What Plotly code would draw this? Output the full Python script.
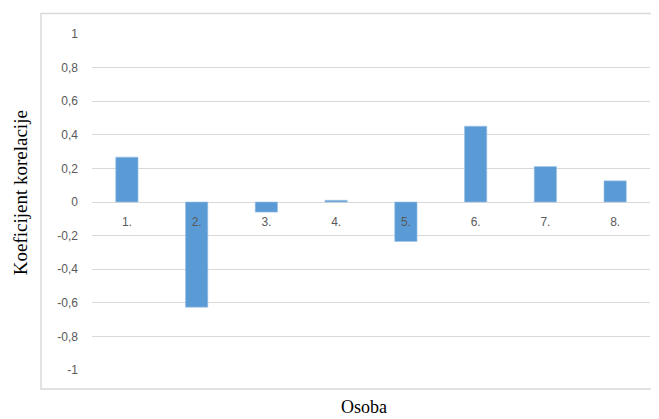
import plotly.graph_objects as go

categories = ["1.", "2.", "3.", "4.", "5.", "6.", "7.", "8."]
values = [0.267, -0.626, -0.06, 0.01, -0.235, 0.451, 0.211, 0.126]
y_tick_vals = [1, 0.8, 0.6, 0.4, 0.2, 0, -0.2, -0.4, -0.6, -0.8, -1]
y_tick_text = ["1", "0,8", "0,6", "0,4", "0,2", "0", "-0,2", "-0,4", "-0,6", "-0,8", "-1"]

# page body has an 8px margin; compensate
OFF = 8
W, H = 659 - OFF, 419 - OFF
ml, mr, mt, mb = 92 - OFF, 9, 33.5 - OFF, 49
pw = W - ml - mr
ph = H - mt - mb


def px_x(x):
    return (x - OFF - ml) / pw


def px_y(y):
    return (H - mb - (y - OFF)) / ph


fig = go.Figure()
fig.add_trace(go.Bar(
    x=categories, y=values,
    marker=dict(color="#5B9BD5", line=dict(color="#9DC3E6", width=0.6)),
    width=0.32,
))

fig.update_layout(
    width=W, height=H,
    margin=dict(l=ml, r=mr, t=mt, b=mb, autoexpand=False),
    plot_bgcolor="white", paper_bgcolor="white",
    showlegend=False,
    font=dict(family="Liberation Sans, Arial", size=12, color="#595959"),
    xaxis=dict(
        type="category", automargin=False,
        anchor="free", position=0.5,
        showline=False, showgrid=False, zeroline=False,
        ticks="", tickfont=dict(size=12, color="#595959"),
        ticklabelstandoff=11,
    ),
    yaxis=dict(
        range=[-1, 1], automargin=False,
        tickvals=y_tick_vals, ticktext=y_tick_text,
        showgrid=True, gridcolor="#D9D9D9", gridwidth=1,
        zeroline=True, zerolinecolor="#D9D9D9", zerolinewidth=1,
        showline=False, ticks="",
        ticklabelstandoff=13,
        tickfont=dict(size=12, color="#595959"),
    ),
    shapes=[dict(
        type="rect", xref="paper", yref="paper",
        x0=px_x(41), x1=px_x(659),
        y0=px_y(389), y1=px_y(13),
        line=dict(color="#D9D9D9", width=1.5), fillcolor="rgba(0,0,0,0)",
        layer="below",
    )],
    annotations=[
        dict(text="Koeficijent korelacije", xref="paper", yref="paper",
             x=px_x(20), y=px_y(193), textangle=-90,
             showarrow=False, xanchor="center", yanchor="middle",
             font=dict(family="Liberation Serif, DejaVu Serif", size=19, color="black")),
        dict(text="Osoba", xref="paper", yref="paper",
             x=px_x(364), y=px_y(395),
             showarrow=False, xanchor="center", yanchor="top",
             font=dict(family="Liberation Serif, DejaVu Serif", size=18, color="black")),
    ],
)

fig.write_html("out.html")
